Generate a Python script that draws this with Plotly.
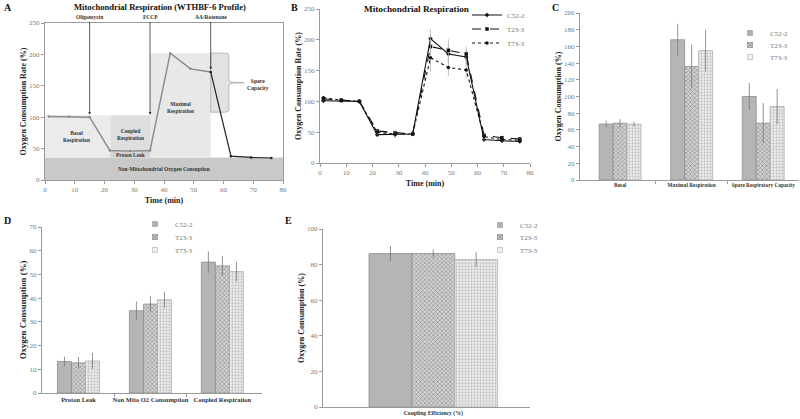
import plotly.graph_objects as go

W, H = 800, 419
FONT = "Liberation Serif"

# ---------------- data ----------------
time_min = [1.3, 8.1, 15.0, 21.8, 28.6, 35.3, 42.1, 48.9, 55.7, 62.5, 69.3, 76.1]
profile_a = [101, 101, 100, 47, 46, 47, 202, 177, 172, 38, 36, 35]

series_names = ["C52-2", "T23-3", "T73-3"]
b_c52 = [101, 101, 100, 46, 46, 47, 202, 177, 172, 38, 36, 35]
b_t23 = [104, 102, 100, 52, 49, 47, 189, 183, 177, 45, 41, 39]
b_t73 = [106, 102, 100, 50, 47, 47, 171, 155, 151, 43, 38, 37]
b_c52_err = [3, 2, 1, 3, 5, 3, 15, 15, 12, 4, 3, 2]
b_t23_err = [3, 2, 1, 4, 5, 3, 20, 18, 12, 4, 4, 3]
b_t73_err = [3, 2, 1, 4, 6, 3, 22, 14, 14, 5, 3, 3]

c_categories = ["Basal", "Maximal Respiration", "Spare Respiratory Capacity"]
c_c52 = [67, 168, 100]
c_t23 = [68, 136, 68]
c_t73 = [67, 155, 88]
c_c52_err = [4, 19, 16]
c_t23_err = [5, 26, 24]
c_t73_err = [3, 25, 21]

d_categories = ["Proton Leak", "Non Mito O2 Consumption", "Coupled Respiration"]
d_c52 = [13.3, 34.7, 55.2]
d_t23 = [12.7, 37.5, 53.6]
d_t73 = [13.5, 39.3, 51.2]
d_c52_err = [2.0, 3.9, 4.5]
d_t23_err = [2.4, 3.5, 4.2]
d_t73_err = [3.4, 3.3, 4.2]

e_categories = ["Coupling Efficiency (%)"]
e_c52 = [86.2]
e_t23 = [86.2]
e_t73 = [82.8]
e_c52_err = [4.2]
e_t23_err = [2.3]
e_t73_err = [4.2]

# ---------------- helpers ----------------
def dx(x0, x1):
    return [x0 / W, x1 / W]

def dy(ytop, ybot):
    return [1 - ybot / H, 1 - ytop / H]

fig = go.Figure()

TICKC = "#7a7a7a"
LINEC = "#9a9a9a"
TICKF = dict(family=FONT, size=7, color=TICKC)

# ---------------- Panel A ----------------
fig.add_trace(go.Scatter(x=time_min[:9], y=profile_a[:9], mode="lines+markers",
                         line=dict(color="#8a8a8a", width=1.4),
                         marker=dict(size=2.5, color="#8a8a8a"),
                         xaxis="x", yaxis="y", showlegend=False))
fig.add_trace(go.Scatter(x=time_min[8:], y=profile_a[8:], mode="lines+markers",
                         line=dict(color="#222", width=1.2),
                         marker=dict(size=2.5, color="#222"),
                         xaxis="x", yaxis="y", showlegend=False))

shapes = []
def rect(x0, x1, y0, y1, color):
    shapes.append(dict(type="rect", xref="x", yref="y", x0=x0, x1=x1, y0=y0, y1=y1,
                       fillcolor=color, line=dict(width=0), layer="below"))

rect(0, 80, 0, 36, "#c9c9c9")
rect(0, 22, 36, 103, "#ebebeb")
rect(22, 35.3, 47, 103, "#dedede")
rect(22, 35.3, 36, 47, "#d2d2d2")
rect(35.3, 55.7, 36, 202, "#e8e8e8")
# spare capacity brace
shapes.append(dict(type="path", xref="x", yref="y", layer="below",
                   path="M 55.7,202 L 60.3,202 Q 61.8,202 61.8,199 L 61.8,160 Q 61.8,155.5 64,155.5 "
                        "L 67,155 L 64,154.5 Q 61.8,154.5 61.8,150 L 61.8,111 Q 61.8,108 60.3,108 L 55.7,108 Z",
                   fillcolor="#e2e2e2", line=dict(color="#a8a8a8", width=0.8)))

ann = []
def atext(x, y, t, size=5.4):
    ann.append(dict(x=x, y=y, xref="x", yref="y", text=t, showarrow=False,
                    font=dict(family=FONT, size=size, color="#333")))

atext(10.5, 70, "<b>Basal<br>Respiration</b>")
atext(28.8, 72, "<b>Coupled<br>Respiration</b>")
atext(28.8, 40.5, "<b>Proton Leak</b>")
atext(45.5, 116, "<b>Maximal<br>Respiration</b>")
atext(40, 17, "<b>Non-Mitochondrial Oxygen Consuption</b>")
atext(71.5, 152, "<b>Spare<br>Capacity</b>", 5.6)

for xv, yv, t in [(15.0, 104, "Oligomycin"), (35.3, 104, "FCCP"), (55.7, 176, "AA/Rotenone")]:
    ann.append(dict(x=xv, y=yv, xref="x", yref="y", ax=xv, ay=259, axref="x", ayref="y",
                    text="<b>%s</b>" % t, showarrow=True, arrowhead=2, arrowsize=0.7,
                    arrowwidth=0.8, arrowcolor="#333",
                    font=dict(family=FONT, size=5.5, color="#333")))

# ---------------- Panel B ----------------
b_series = [b_c52, b_t23, b_t73]
b_errs = [b_c52_err, b_t23_err, b_t73_err]
b_dash = ["solid", "dash", "dot"]
b_sym = ["diamond", "square", "circle"]
for k, (name, ys, es, dsh, sym) in enumerate(zip(series_names, b_series, b_errs, b_dash, b_sym)):
    fig.add_trace(go.Scatter(x=time_min, y=ys, name=name, mode="lines+markers",
                             line=dict(color="#111", width=1.1, dash=dsh),
                             marker=dict(size=3.5, color="#111", symbol=sym),
                             error_y=dict(type="data", array=es, color="#b0b0b0", thickness=0.8, width=0),
                             xaxis="x2", yaxis="y2", legend="legend" if k == 0 else "legend%d" % (k + 1)))

# ---------------- Bars ----------------
bar_styles = [
    dict(color="#b5b5b5", line=dict(color="#8e8e8e", width=0.8)),
    dict(color="#cfcfcf", line=dict(color="#8e8e8e", width=0.8),
         pattern=dict(shape="x", fgcolor="#8a8a8a", bgcolor="#d2d2d2", size=3, solidity=0.35, fillmode="replace")),
    dict(color="#efefef", line=dict(color="#b0b0b0", width=0.8),
         pattern=dict(shape=".", fgcolor="#c4c4c4", bgcolor="#f1f1f1", size=3, solidity=0.45, fillmode="replace")),
]
swatch_styles = [
    dict(symbol="square", size=5, color="#b0b0b0", line=dict(color="#888", width=0.5)),
    dict(symbol="square-x", size=5, color="#c8c8c8", line=dict(color="#777", width=0.6)),
    dict(symbol="square", size=5, color="#f0f0f0", line=dict(color="#aaa", width=0.6)),
]
BW = 0.195

def add_bars(cats, vals, errs, xa, ya, legs):
    for k, (name, v, e) in enumerate(zip(series_names, vals, errs)):
        xs = [i + (k - 1) * BW for i in range(len(cats))]
        fig.add_trace(go.Bar(x=xs, y=v, width=BW, name=name, marker=bar_styles[k],
                             error_y=dict(type="data", array=e, color="#777", thickness=0.8, width=0),
                             xaxis=xa, yaxis=ya, showlegend=False))
        # legend swatch entry
        fig.add_trace(go.Scatter(x=[None], y=[None], mode="markers", name=name,
                                 marker=swatch_styles[k], xaxis=xa, yaxis=ya, legend=legs[k]))

add_bars(c_categories, [c_c52, c_t23, c_t73], [c_c52_err, c_t23_err, c_t73_err], "x3", "y3",
         ["legend4", "legend5", "legend6"])
add_bars(d_categories, [d_c52, d_t23, d_t73], [d_c52_err, d_t23_err, d_t73_err], "x4", "y4",
         ["legend7", "legend8", "legend9"])
add_bars(e_categories, [e_c52, e_t23, e_t73], [e_c52_err, e_t23_err, e_t73_err], "x5", "y5",
         ["legend10", "legend11", "legend12"])

# ---------------- axes ----------------
def num_axis(domain, rng, dtick, title, tsize=8, standoff=1, mirror=False, anchor=None):
    d = dict(domain=domain, range=rng, dtick=dtick, tick0=0, showgrid=False, zeroline=False,
             showline=True, linecolor=LINEC, linewidth=1, mirror=mirror, automargin=False,
             ticks="outside", ticklen=3, tickcolor=LINEC, tickfont=TICKF, tickangle=0,
             title=dict(text="<b>%s</b>" % title if title else "",
                        font=dict(family=FONT, size=tsize, color="#222"), standoff=standoff))
    if anchor:
        d["anchor"] = anchor
    return d

def cat_axis(domain, rng, cats, anchor, boundaries, fsize):
    return dict(domain=domain, range=rng, anchor=anchor, showgrid=False, zeroline=False,
                showline=True, linecolor=LINEC, linewidth=1, automargin=False, tickangle=0,
                ticklabeloverflow="allow",
                tickmode="array", tickvals=list(range(len(cats))),
                ticktext=["<b>%s</b>" % c for c in cats], ticks="",
                tickfont=dict(family=FONT, size=fsize, color="#333"),
                minor=dict(tickmode="array", tickvals=boundaries, ticks="outside", ticklen=3, tickcolor=LINEC))

fig.update_layout(
    xaxis=num_axis(dx(45, 283), [0, 80], 10, "Time (min)", anchor="y", mirror=True, standoff=3),
    yaxis=num_axis(dy(23, 180), [0, 250], 50, "Oxygen Consumption Rate (%)", anchor="x", mirror=True),
    xaxis2=num_axis(dx(320, 530), [0, 80], 10, "Time (min)", anchor="y2", standoff=3),
    yaxis2=num_axis(dy(9, 163), [0, 250], 50, "Oxygen Consumption Rate (%)", anchor="x2"),
    xaxis3=cat_axis(dx(580, 799), [-0.56, 2.5], c_categories, "y3", [0.5, 1.5], 5.3),
    yaxis3=num_axis(dy(13, 180), [0, 200], 20, "Oxygen Consumption (%)", anchor="x3"),
    xaxis4=cat_axis(dx(42, 262), [-0.507, 2.55], d_categories, "y4", [0.5, 1.5], 6.5),
    yaxis4=num_axis(dy(227, 393), [0, 70], 10, "Oxygen Consumption (%)", tsize=8.8, anchor="x4"),
    xaxis5=cat_axis(dx(323, 530), [-0.502, 0.44], e_categories, "y5", [], 5.7),
    yaxis5=num_axis(dy(229, 407), [0, 100], 20, "Oxygen Consumption (%)", anchor="x5"),
)

legfont = dict(family=FONT, size=7, color="#777")
TEXT_OFF = 36
leg_pos = {
    "legend": (503, 15), "legend2": (503, 29), "legend3": (503, 43),
    "legend4": (766, 33), "legend5": (766, 45), "legend6": (766, 57),
    "legend7": (171, 224), "legend8": (171, 237), "legend9": (171, 250),
    "legend10": (516, 225), "legend11": (516, 237), "legend12": (516, 250),
}
leg_layout = {}
for key, (tx, ty) in leg_pos.items():
    leg_layout[key] = dict(x=(tx - TEXT_OFF) / W, y=1 - ty / H, xanchor="left", yanchor="middle",
                           font=legfont, bgcolor="rgba(0,0,0,0)", itemwidth=30)
fig.update_layout(**leg_layout)

# titles and panel letters
def ptext(px, py, t, size, color="#111", xanchor="center"):
    ann.append(dict(x=px / W, y=1 - py / H, xref="paper", yref="paper", text=t, showarrow=False,
                    xanchor=xanchor, yanchor="middle", font=dict(family=FONT, size=size, color=color)))

ptext(160, 7, "<b>Mitochondrial Respiration (WTHBF-6 Profile)</b>", 8.6)
ptext(416, 9, "<b>Mitochondrial Respiration</b>", 9.2)
ptext(2, 7, "<b>A</b>", 10, xanchor="left")
ptext(289, 7, "<b>B</b>", 10, xanchor="left")
ptext(550, 8, "<b>C</b>", 10, xanchor="left")
ptext(2, 221, "<b>D</b>", 10, xanchor="left")
ptext(283, 221, "<b>E</b>", 10, xanchor="left")

fig.update_layout(width=W, height=H, autosize=False, margin=dict(l=0, r=0, t=0, b=0),
                  paper_bgcolor="white", plot_bgcolor="white", barmode="overlay",
                  shapes=shapes, annotations=ann, font=dict(family=FONT))

fig.write_html("out.html", config={"displayModeBar": False},
               post_script="document.body.style.margin='0';document.body.style.overflow='hidden';")
